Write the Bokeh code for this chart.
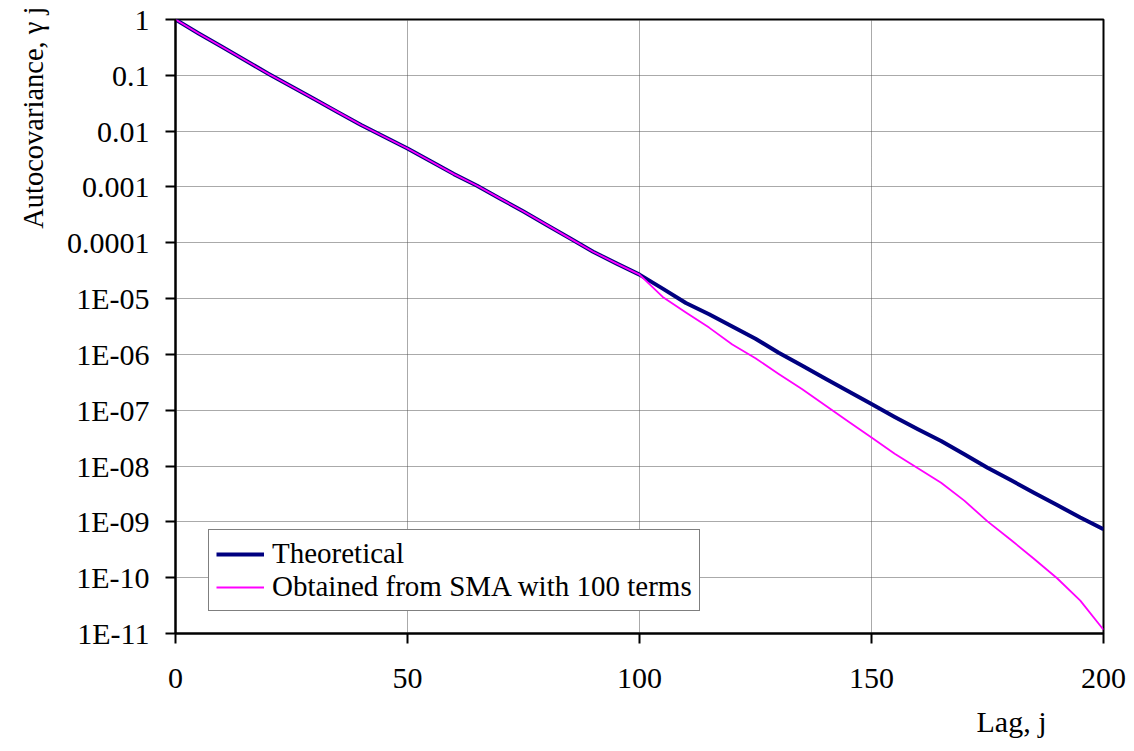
from bokeh.plotting import figure
from bokeh.models import (ColumnDataSource, Range1d, FixedTicker, Legend, LegendItem, Title)
from bokeh.embed import file_html
from bokeh.resources import INLINE

# ---- data ----
lags = [0, 5, 10, 15, 20, 25, 30, 35, 40, 45, 50, 55, 60, 65, 70, 75, 80, 85, 90, 95, 100,
        105, 110, 115, 120, 125, 130, 135, 140, 145, 150, 155, 160, 165, 170, 175, 180,
        185, 190, 195, 200]

theoretical = [1.0, 0.562, 0.324, 0.186, 0.107, 0.0631, 0.0372, 0.0219, 0.0129, 0.00794,
               0.00490, 0.00288, 0.00170, 0.00105, 6.17e-4, 3.63e-4, 2.09e-4, 1.20e-4,
               6.92e-5, 4.27e-5, 2.69e-5,
               1.51e-5, 8.32e-6, 5.25e-6, 3.16e-6, 1.91e-6, 1.07e-6, 6.31e-7, 3.72e-7,
               2.19e-7, 1.29e-7, 7.59e-8, 4.57e-8, 2.82e-8, 1.62e-8, 9.33e-9, 5.62e-9,
               3.31e-9, 2.00e-9, 1.20e-9, 7.41e-10]

sma_100 = [1.0, 0.562, 0.324, 0.186, 0.107, 0.0631, 0.0372, 0.0219, 0.0129, 0.00794,
           0.00490, 0.00288, 0.00170, 0.00105, 6.17e-4, 3.63e-4, 2.09e-4, 1.20e-4,
           6.92e-5, 4.27e-5, 2.69e-5,
           1.07e-5, 5.62e-6, 3.02e-6, 1.51e-6, 8.51e-7, 4.47e-7, 2.40e-7, 1.23e-7,
           6.31e-8, 3.24e-8, 1.66e-8, 9.12e-9, 5.01e-9, 2.40e-9, 1.02e-9, 4.79e-10,
           2.19e-10, 9.77e-11, 3.89e-11, 1.17e-11]

x_ticks = [0, 50, 100, 150, 200]
y_ticks = [1e-11, 1e-10, 1e-09, 1e-08, 1e-07, 1e-06, 1e-05, 1e-04, 1e-03, 1e-02, 1e-01, 1.0]
y_tick_labels = ["1E-11", "1E-10", "1E-09", "1E-08", "1E-07", "1E-06", "1E-05",
                 "0.0001", "0.001", "0.01", "0.1", "1"]

series_names = ["Theoretical", "Obtained from SMA with 100 terms"]
x_title = "Lag, j"
y_title = "Autocovariance, γ j"

FONT = "Liberation Serif"

src = ColumnDataSource(dict(lag=lags, theo=theoretical, sma=sma_100))

p = figure(width=1134, height=751, y_axis_type="log",
           x_range=Range1d(0, 200), y_range=Range1d(1e-11, 1),
           output_backend="svg", toolbar_location=None,
           min_border_left=175, min_border_right=31,
           min_border_top=19, min_border_bottom=118)

p.background_fill_color = "white"
p.border_fill_color = "white"
p.outline_line_color = "black"
p.outline_line_width = 2

# grids
p.xgrid.ticker = FixedTicker(ticks=x_ticks)
p.ygrid.ticker = FixedTicker(ticks=y_ticks)
for g in (p.xgrid, p.ygrid):
    g.grid_line_color = "#555555"
    g.grid_line_dash = "1 1"
    g.grid_line_width = 1

# axes
p.xaxis.ticker = FixedTicker(ticks=x_ticks)
p.yaxis.ticker = FixedTicker(ticks=y_ticks)
p.yaxis.major_label_overrides = {t: l for t, l in zip(y_ticks, y_tick_labels)}
for ax in (p.xaxis, p.yaxis):
    ax.axis_line_color = "black"
    ax.axis_line_width = 2
    ax.major_tick_line_color = "black"
    ax.major_tick_line_width = 2
    ax.major_tick_in = 0
    ax.major_tick_out = 10
    ax.minor_tick_line_color = None
    ax.major_label_text_font = FONT
    ax.major_label_text_font_size = "30px"
    ax.major_label_text_color = "black"
p.xaxis.major_label_standoff = 25
p.yaxis.major_label_standoff = 16

r1 = p.line("lag", "theo", source=src, line_color="#000080", line_width=4,
            line_join="round")
r2 = p.line("lag", "sma", source=src, line_color="#FF00FF", line_width=1.8,
            line_join="round")

legend = Legend(items=[LegendItem(label=series_names[0], renderers=[r1]),
                       LegendItem(label=series_names[1], renderers=[r2])],
                location=(33, 22))
legend.border_line_color = "black"
legend.border_line_width = 1.5
legend.background_fill_color = "white"
legend.background_fill_alpha = 1
legend.label_text_font = FONT
legend.label_text_font_size = "29px"
legend.label_text_color = "black"
legend.glyph_width = 48
legend.glyph_height = 30
legend.label_height = 30
legend.label_standoff = 8
legend.spacing = 0
legend.padding = 7
legend.margin = 0
p.add_layout(legend)

# axis titles placed like the reference: y title at the top, x title at the right
p.add_layout(Title(text=y_title, align="right", offset=-13, standoff=30,
                   text_font=FONT, text_font_size="28.5px", text_font_style="normal",
                   text_color="black"), "left")
p.add_layout(Title(text=x_title, align="right", offset=57, standoff=25,
                   text_font=FONT, text_font_size="30px", text_font_style="normal",
                   text_color="black"), "below")

open("out.html", "w").write(file_html(p, INLINE))
